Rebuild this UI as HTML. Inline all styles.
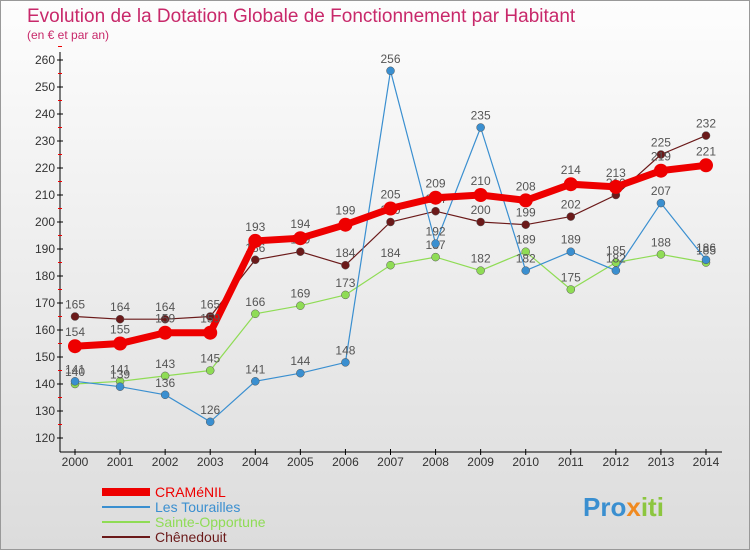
<!DOCTYPE html>
<html><head><meta charset="utf-8"><style>
body{margin:0;width:750px;height:550px;overflow:hidden;font-family:"Liberation Sans",sans-serif}
#wrap{position:absolute;left:0;top:0;width:748px;height:548px;border:1px solid #999;background:linear-gradient(#fdfdfd,#dcdcdc)}
</style></head><body>
<div id="wrap">
<svg id="svg" width="750" height="550" style="position:absolute;left:-1px;top:-1px">
<text x="27" y="22" font-size="19" fill="#c8286a">Evolution de la Dotation Globale de Fonctionnement par Habitant</text>
<text x="27" y="39" font-size="12" fill="#c8286a">(en € et par an)</text>
<g id="axes"></g><g id="series"></g><g id="legend"></g>
<text x="583" y="516" font-size="26" font-weight="bold" fill="#3a8fd0">Pro<tspan fill="#f08a20">x</tspan><tspan fill="#8cc63f">iti</tspan></text>
</svg></div>
<script>
const years=[2000,2001,2002,2003,2004,2005,2006,2007,2008,2009,2010,2011,2012,2013,2014];
const yTicks=[120,130,140,150,160,170,180,190,200,210,220,230,240,250,260];
const cramenil=[154,155,159,159,193,194,199,205,209,210,208,214,213,219,221];
const tourailles=[141,139,136,126,141,144,148,256,192,235,182,189,182,207,186];
const sainte=[140,141,143,145,166,169,173,184,187,182,189,175,185,188,185];
const chenedouit=[165,164,164,165,186,189,184,200,204,200,199,202,210,225,232];
const NS="http://www.w3.org/2000/svg";
function X(i){return 75+i*(706-75)/(years.length-1);}
function Y(v){return 438-(v-120)*(438-60)/140;}
function mk(tag,attrs,parent){const e=document.createElementNS(NS,tag);for(const k in attrs)e.setAttribute(k,attrs[k]);parent.appendChild(e);return e;}
const ax=document.getElementById('axes');
let l=mk('line',{x1:60,y1:52,x2:60,y2:452,stroke:'#000'},ax);


l=mk('line',{x1:60,y1:452,x2:722,y2:452,stroke:'#000'},ax);


yTicks.forEach(v=>{
  mk('line',{x1:57,y1:Y(v),x2:63,y2:Y(v),stroke:'#000'},ax);
  mk('line',{x1:58,y1:Y(v+5),x2:62,y2:Y(v+5),stroke:'#e00'},ax);
  const t=mk('text',{x:55,y:Y(v)+4,'font-size':12,'text-anchor':'end',fill:'#333'},ax);
  t.textContent=v;
  
  
});
years.forEach((y,i)=>{
  mk('line',{x1:X(i),y1:449,x2:X(i),y2:455,stroke:'#000'},ax);
  const t=mk('text',{x:X(i),y:466,'font-size':12,'text-anchor':'middle',fill:'#333'},ax);
  t.textContent=y;
  
  
});
const series=[
 {name:'Chênedouit',d:chenedouit,c:'#6b1a1a',w:1.2,r:4,key:'chenedouit'},
 {name:'Sainte-Opportune',d:sainte,c:'#8fdc55',w:1.2,r:4,key:'sainte-opportune'},
 {name:'Les Tourailles',d:tourailles,c:'#3a8fd0',w:1.2,r:4,key:'les-tourailles'},
 {name:'CRAMéNIL',d:cramenil,c:'#ee0000',w:7,r:7,key:'cramenil'}];
const sg=document.getElementById('series');
series.forEach(s=>{
  const g=mk('g',{},sg);
  
  
  const p=mk('polyline',{points:s.d.map((v,i)=>X(i)+','+Y(v)).join(' '),fill:'none',stroke:s.c,'stroke-width':s.w},g);
  
  
  s.d.forEach((v,i)=>{
    const c=mk('circle',{cx:X(i),cy:Y(v),r:s.r,fill:s.c,stroke:s.r>5?'none':'#555','stroke-width':0.5},g);
    
    
    const t=mk('text',{x:X(i),y:Y(v)-(s.r>5?10:8),'font-size':12,'text-anchor':'middle',fill:'#555'},g);
    t.textContent=v;
    
    
  });
});
const lg=document.getElementById('legend');
[['CRAMéNIL','#ee0000',8,'cramenil'],['Les Tourailles','#3a8fd0',2,'les-tourailles'],['Sainte-Opportune','#8fdc55',2,'sainte-opportune'],['Chênedouit','#6b1a1a',2,'chenedouit']].forEach((e,i)=>{
  const y=492+i*15;
  const g=mk('g',{},lg);
  
  
  mk('line',{x1:102,y1:y,x2:150,y2:y,stroke:e[1],'stroke-width':e[2]},g);
  const t=mk('text',{x:155,y:y+5,'font-size':14,fill:e[1]},g);
  t.textContent=e[0];
});
</script>
</body></html>
